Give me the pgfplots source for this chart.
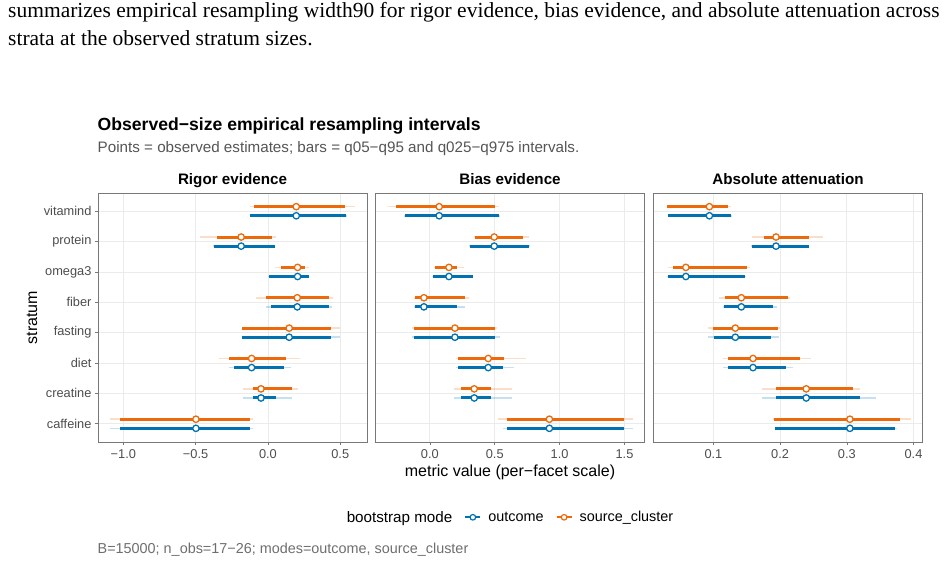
\documentclass[border=0pt]{standalone}
\usepackage{fontspec}
\setmainfont{Liberation Sans}
\newfontfamily\seriffont{Liberation Serif}
\usepackage{pgfplots}
\pgfplotsset{compat=1.18}
\usepackage{pgfplotstable}

\definecolor{oc}{RGB}{236,106,10}
\definecolor{bc}{RGB}{0,114,178}
\definecolor{gridc}{RGB}{235,235,235}
\definecolor{framec}{RGB}{120,120,120}
\definecolor{tickc}{RGB}{77,77,77}
\definecolor{subc}{RGB}{85,85,85}
\definecolor{capc}{RGB}{110,110,110}

% k: caffeine=0 ... vitamind=7 ; p=point, a/b = q05/q95, c/d = q025/q975
\pgfplotstableread{
k p a b c d
7 0.196 -0.095 0.535 -0.122 0.604
6 -0.185 -0.351 0.030 -0.468 0.057
5 0.205 0.090 0.253 0.050 0.281
4 0.203 -0.014 0.419 -0.081 0.450
3 0.147 -0.176 0.436 -0.180 0.495
2 -0.113 -0.266 0.124 -0.341 0.223
1 -0.048 -0.100 0.168 -0.169 0.205
0 -0.498 -1.026 -0.127 -1.091 -0.104
}\RigO
\pgfplotstableread{
k p a b c d
7 0.196 -0.122 0.541 -0.125 0.545
6 -0.185 -0.376 0.046 -0.380 0.050
5 0.205 0.004 0.281 0.000 0.285
4 0.203 0.023 0.419 -0.014 0.443
3 0.147 -0.176 0.436 -0.180 0.495
2 -0.113 -0.233 0.108 -0.272 0.159
1 -0.048 -0.100 0.053 -0.169 0.168
0 -0.498 -1.026 -0.127 -1.091 -0.104
}\RigB
\pgfplotstableread{
k p a b c d
7 0.072 -0.262 0.504 -0.322 0.535
6 0.496 0.350 0.715 0.342 0.766
5 0.147 0.039 0.206 0.033 0.260
4 -0.046 -0.113 0.268 -0.120 0.299
3 0.193 -0.123 0.504 -0.141 0.520
2 0.450 0.214 0.573 0.200 0.741
1 0.342 0.237 0.473 0.188 0.633
0 0.921 0.594 1.499 0.527 1.564
}\BiaO
\pgfplotstableread{
k p a b c d
7 0.072 -0.195 0.535 -0.200 0.540
6 0.496 0.311 0.764 0.305 0.768
5 0.147 0.026 0.329 0.020 0.333
4 -0.046 -0.113 0.206 -0.120 0.268
3 0.193 -0.123 0.504 -0.141 0.540
2 0.450 0.214 0.561 0.200 0.648
1 0.342 0.237 0.473 0.188 0.633
0 0.921 0.594 1.499 0.561 1.564
}\BiaB
\pgfplotstableread{
k p a b c d
7 0.0940 0.0311 0.1225 0.0300 0.1265
6 0.1939 0.1763 0.2428 0.1584 0.2647
5 0.0587 0.0392 0.1504 0.0317 0.1554
4 0.1419 0.1171 0.2114 0.1085 0.2150
3 0.1329 0.1000 0.1973 0.0925 0.2000
2 0.1594 0.1225 0.2302 0.1150 0.2458
1 0.2392 0.1943 0.3096 0.1724 0.3196
0 0.3046 0.1913 0.3805 0.1900 0.3955
}\AttO
\pgfplotstableread{
k p a b c d
7 0.0940 0.0326 0.1260 0.0320 0.1280
6 0.1939 0.1584 0.2428 0.1570 0.2440
5 0.0587 0.0317 0.1474 0.0300 0.1490
4 0.1419 0.1165 0.1894 0.1150 0.1954
3 0.1329 0.1010 0.1864 0.0925 0.1988
2 0.1594 0.1225 0.2093 0.1150 0.2193
1 0.2392 0.1943 0.3196 0.1724 0.3436
0 0.3046 0.1928 0.3720 0.1918 0.3755
}\AttB

\newcommand{\drawseries}[3]{%
\addplot[only marks, mark=none, forget plot, error bars/.cd, x dir=both, x explicit, error mark=none,
  error bar style={draw=#2, draw opacity=0.22, line width=1.6pt}]
  table[x=p, y expr=\thisrow{k}+#3, x error plus expr=\thisrow{d}-\thisrow{p}, x error minus expr=\thisrow{p}-\thisrow{c}] {#1};
\addplot[only marks, mark=none, forget plot, error bars/.cd, x dir=both, x explicit, error mark=none,
  error bar style={draw=#2, line width=3pt}]
  table[x=p, y expr=\thisrow{k}+#3, x error plus expr=\thisrow{b}-\thisrow{p}, x error minus expr=\thisrow{p}-\thisrow{a}] {#1};
\addplot[only marks, mark=*, mark size=3.2pt, mark options={draw=#2, fill=white, line width=1.3pt}, forget plot]
  table[x=p, y expr=\thisrow{k}+#3] {#1};
}

\pgfplotsset{
  panel/.style={
    scale only axis, width=269pt, height=249pt, anchor=south west,
    ymin=-0.6, ymax=7.6, ytick={0,...,7},
    grid=major, major grid style={draw=gridc, line width=0.8pt},
    axis line style={draw=framec, line width=0.8pt},
    tick align=outside, major tick length=3pt,
    tick style={draw=framec, line width=0.6pt},
    xtick pos=left, ytick pos=left,
    xticklabel style={font=\fontsize{12.8}{15}\selectfont, text=tickc, anchor=base, yshift=-14pt},
    yticklabel style={font=\fontsize{12.8}{15}\selectfont, text=tickc},
    title style={font=\bfseries\fontsize{15.2}{18}\selectfont, at={(0.5,1)}, anchor=base, yshift=3pt},
    clip=false,
  },
  legB/.style={legend image code/.code={\draw[bc, line width=2pt] (0pt,0pt) -- (15pt,0pt); \draw[bc, line width=1.2pt, fill=white] (7.5pt,0pt) circle (2.8pt);}},
  legO/.style={legend image code/.code={\draw[oc, line width=2pt] (0pt,0pt) -- (15pt,0pt); \draw[oc, line width=1.2pt, fill=white] (7.5pt,0pt) circle (2.8pt);}},
}

\begin{document}
\begin{tikzpicture}[x=1pt,y=1pt]
\path[use as bounding box] (0pt,0pt) rectangle (948pt,562pt);

\node[anchor=base west, inner sep=0pt, font=\seriffont\fontsize{21.5}{25}\selectfont] at (8pt,544.5pt) {summarizes empirical resampling width90 for rigor evidence, bias evidence, and absolute attenuation across};
\node[anchor=base west, inner sep=0pt, font=\seriffont\fontsize{21.5}{25}\selectfont] at (8pt,516pt) {strata at the observed stratum sizes.};

\node[anchor=base west, inner sep=0pt, font=\bfseries\fontsize{17.6}{21}\selectfont] at (97.5pt,431.3pt) {Observed−size empirical resampling intervals};
\node[anchor=base west, inner sep=0pt, text=subc, font=\fontsize{15.2}{18}\selectfont] at (97.5pt,409pt) {Points = observed estimates; bars = q05−q95 and q025−q975 intervals.};

\begin{axis}[panel, at={(98pt,120pt)},
  xmin=-1.175, xmax=0.685, xtick={-1,-0.5,0,0.5}, xticklabels={−1.0,−0.5,0.0,0.5},
  yticklabels={caffeine,creatine,diet,fasting,fiber,omega3,protein,vitamind},
  title={Rigor evidence}]
\drawseries{\RigO}{oc}{0.15}
\drawseries{\RigB}{bc}{-0.15}
\end{axis}

\begin{axis}[panel, at={(375.5pt,120pt)},
  xmin=-0.419, xmax=1.654, xtick={0,0.5,1,1.5}, xticklabels={0.0,0.5,1.0,1.5},
  yticklabels={}, ytick style={draw=none},
  title={Bias evidence},
  legend style={at={(0.5,-0.3024)}, anchor=center, xshift=-3.5pt, draw=none, fill=none,
    legend columns=-1, font=\fontsize{14.4}{17}\selectfont, nodes={inner sep=0pt},
    /tikz/every odd column/.append style={column sep=7pt},
    /tikz/every even column/.append style={column sep=12pt}}]
\drawseries{\BiaO}{oc}{0.15}
\drawseries{\BiaB}{bc}{-0.15}
\addlegendimage{empty legend}\addlegendentry{\fontsize{15.2}{18}\selectfont bootstrap mode}
\addlegendimage{legB}\addlegendentry{outcome}
\addlegendimage{legO}\addlegendentry{source\_cluster}
\end{axis}

\begin{axis}[panel, at={(653.5pt,120pt)},
  xmin=0.0102, xmax=0.4135, xtick={0.1,0.2,0.3,0.4}, xticklabels={0.1,0.2,0.3,0.4},
  yticklabels={}, ytick style={draw=none},
  title={Absolute attenuation}]
\drawseries{\AttO}{oc}{0.15}
\drawseries{\AttB}{bc}{-0.15}
\end{axis}

\node[anchor=base, inner sep=0pt, font=\fontsize{16}{19}\selectfont] at (510pt,85pt) {metric value (per−facet scale)};
\node[anchor=base, rotate=90, inner sep=0pt, font=\fontsize{16}{19}\selectfont] at (37pt,244.5pt) {stratum};
\node[anchor=base west, inner sep=0pt, text=capc, font=\fontsize{14.4}{17}\selectfont] at (97.5pt,8.5pt) {B=15000; n\_obs=17−26; modes=outcome, source\_cluster};
\end{tikzpicture}
\end{document}
